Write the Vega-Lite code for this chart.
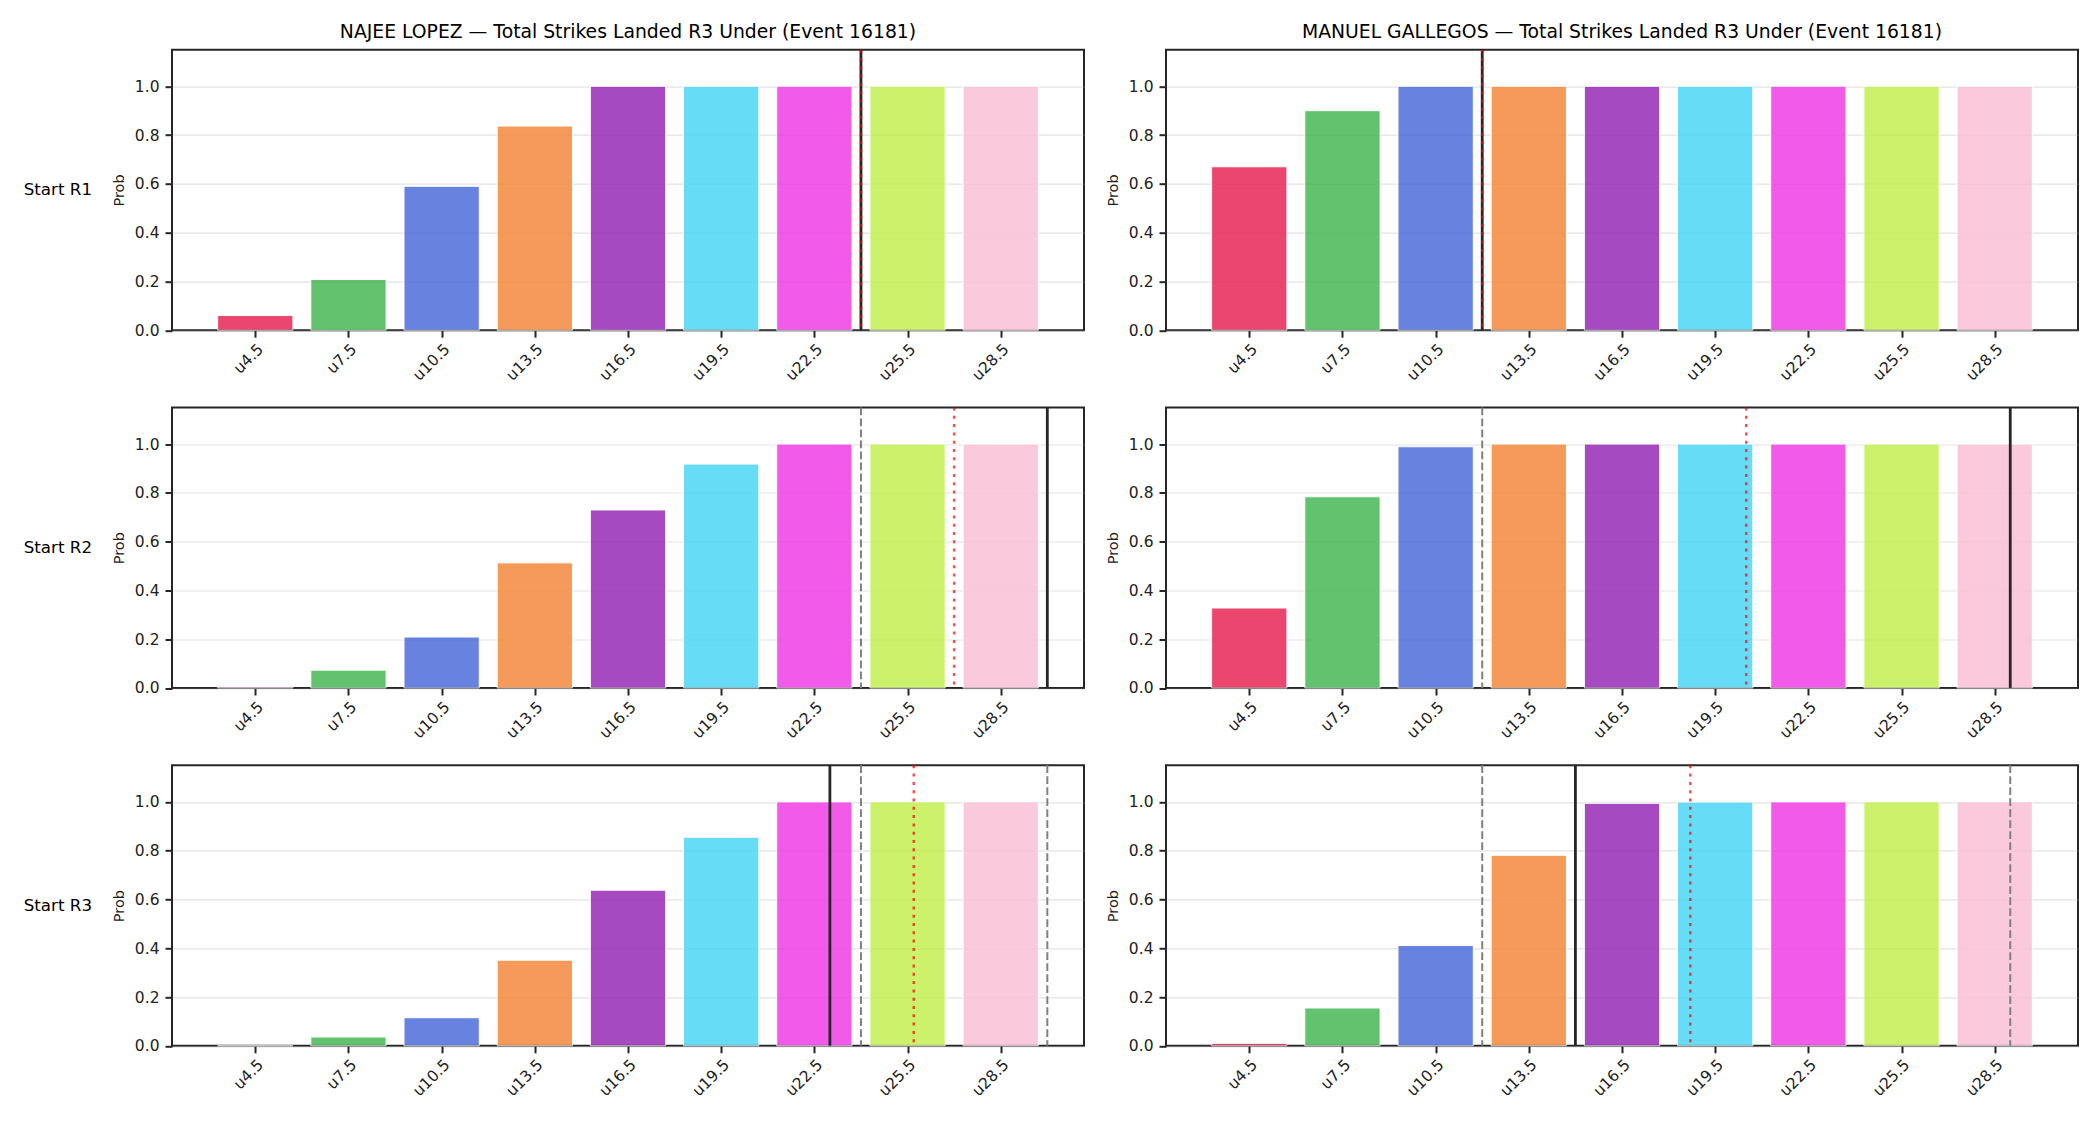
{
  "$schema": "https://vega.github.io/schema/vega-lite/v6.json",
  "background": "white",
  "padding": {"left": 23, "top": 22.7, "right": 10, "bottom": 10},
  "data": {
    "values": [
      {"fighter": "NAJEE LOPEZ", "start": "Start R1", "kind": "bar", "line": 4.5, "p": 0.06},
      {"fighter": "NAJEE LOPEZ", "start": "Start R1", "kind": "bar", "line": 7.5, "p": 0.208},
      {"fighter": "NAJEE LOPEZ", "start": "Start R1", "kind": "bar", "line": 10.5, "p": 0.59},
      {"fighter": "NAJEE LOPEZ", "start": "Start R1", "kind": "bar", "line": 13.5, "p": 0.837},
      {"fighter": "NAJEE LOPEZ", "start": "Start R1", "kind": "bar", "line": 16.5, "p": 1.0},
      {"fighter": "NAJEE LOPEZ", "start": "Start R1", "kind": "bar", "line": 19.5, "p": 1.0},
      {"fighter": "NAJEE LOPEZ", "start": "Start R1", "kind": "bar", "line": 22.5, "p": 1.0},
      {"fighter": "NAJEE LOPEZ", "start": "Start R1", "kind": "bar", "line": 25.5, "p": 1.0},
      {"fighter": "NAJEE LOPEZ", "start": "Start R1", "kind": "bar", "line": 28.5, "p": 1.0},
      {"fighter": "NAJEE LOPEZ", "start": "Start R2", "kind": "bar", "line": 4.5, "p": 0.004},
      {"fighter": "NAJEE LOPEZ", "start": "Start R2", "kind": "bar", "line": 7.5, "p": 0.073},
      {"fighter": "NAJEE LOPEZ", "start": "Start R2", "kind": "bar", "line": 10.5, "p": 0.209},
      {"fighter": "NAJEE LOPEZ", "start": "Start R2", "kind": "bar", "line": 13.5, "p": 0.513},
      {"fighter": "NAJEE LOPEZ", "start": "Start R2", "kind": "bar", "line": 16.5, "p": 0.73},
      {"fighter": "NAJEE LOPEZ", "start": "Start R2", "kind": "bar", "line": 19.5, "p": 0.918},
      {"fighter": "NAJEE LOPEZ", "start": "Start R2", "kind": "bar", "line": 22.5, "p": 1.0},
      {"fighter": "NAJEE LOPEZ", "start": "Start R2", "kind": "bar", "line": 25.5, "p": 1.0},
      {"fighter": "NAJEE LOPEZ", "start": "Start R2", "kind": "bar", "line": 28.5, "p": 1.0},
      {"fighter": "NAJEE LOPEZ", "start": "Start R3", "kind": "bar", "line": 4.5, "p": 0.0},
      {"fighter": "NAJEE LOPEZ", "start": "Start R3", "kind": "bar", "line": 7.5, "p": 0.036},
      {"fighter": "NAJEE LOPEZ", "start": "Start R3", "kind": "bar", "line": 10.5, "p": 0.115},
      {"fighter": "NAJEE LOPEZ", "start": "Start R3", "kind": "bar", "line": 13.5, "p": 0.351},
      {"fighter": "NAJEE LOPEZ", "start": "Start R3", "kind": "bar", "line": 16.5, "p": 0.638},
      {"fighter": "NAJEE LOPEZ", "start": "Start R3", "kind": "bar", "line": 19.5, "p": 0.855},
      {"fighter": "NAJEE LOPEZ", "start": "Start R3", "kind": "bar", "line": 22.5, "p": 1.0},
      {"fighter": "NAJEE LOPEZ", "start": "Start R3", "kind": "bar", "line": 25.5, "p": 1.0},
      {"fighter": "NAJEE LOPEZ", "start": "Start R3", "kind": "bar", "line": 28.5, "p": 1.0},
      {"fighter": "MANUEL GALLEGOS", "start": "Start R1", "kind": "bar", "line": 4.5, "p": 0.67},
      {"fighter": "MANUEL GALLEGOS", "start": "Start R1", "kind": "bar", "line": 7.5, "p": 0.9},
      {"fighter": "MANUEL GALLEGOS", "start": "Start R1", "kind": "bar", "line": 10.5, "p": 1.0},
      {"fighter": "MANUEL GALLEGOS", "start": "Start R1", "kind": "bar", "line": 13.5, "p": 1.0},
      {"fighter": "MANUEL GALLEGOS", "start": "Start R1", "kind": "bar", "line": 16.5, "p": 1.0},
      {"fighter": "MANUEL GALLEGOS", "start": "Start R1", "kind": "bar", "line": 19.5, "p": 1.0},
      {"fighter": "MANUEL GALLEGOS", "start": "Start R1", "kind": "bar", "line": 22.5, "p": 1.0},
      {"fighter": "MANUEL GALLEGOS", "start": "Start R1", "kind": "bar", "line": 25.5, "p": 1.0},
      {"fighter": "MANUEL GALLEGOS", "start": "Start R1", "kind": "bar", "line": 28.5, "p": 1.0},
      {"fighter": "MANUEL GALLEGOS", "start": "Start R2", "kind": "bar", "line": 4.5, "p": 0.328},
      {"fighter": "MANUEL GALLEGOS", "start": "Start R2", "kind": "bar", "line": 7.5, "p": 0.784},
      {"fighter": "MANUEL GALLEGOS", "start": "Start R2", "kind": "bar", "line": 10.5, "p": 0.989},
      {"fighter": "MANUEL GALLEGOS", "start": "Start R2", "kind": "bar", "line": 13.5, "p": 1.0},
      {"fighter": "MANUEL GALLEGOS", "start": "Start R2", "kind": "bar", "line": 16.5, "p": 1.0},
      {"fighter": "MANUEL GALLEGOS", "start": "Start R2", "kind": "bar", "line": 19.5, "p": 1.0},
      {"fighter": "MANUEL GALLEGOS", "start": "Start R2", "kind": "bar", "line": 22.5, "p": 1.0},
      {"fighter": "MANUEL GALLEGOS", "start": "Start R2", "kind": "bar", "line": 25.5, "p": 1.0},
      {"fighter": "MANUEL GALLEGOS", "start": "Start R2", "kind": "bar", "line": 28.5, "p": 1.0},
      {"fighter": "MANUEL GALLEGOS", "start": "Start R3", "kind": "bar", "line": 4.5, "p": 0.01},
      {"fighter": "MANUEL GALLEGOS", "start": "Start R3", "kind": "bar", "line": 7.5, "p": 0.155},
      {"fighter": "MANUEL GALLEGOS", "start": "Start R3", "kind": "bar", "line": 10.5, "p": 0.411},
      {"fighter": "MANUEL GALLEGOS", "start": "Start R3", "kind": "bar", "line": 13.5, "p": 0.781},
      {"fighter": "MANUEL GALLEGOS", "start": "Start R3", "kind": "bar", "line": 16.5, "p": 0.994},
      {"fighter": "MANUEL GALLEGOS", "start": "Start R3", "kind": "bar", "line": 19.5, "p": 0.999},
      {"fighter": "MANUEL GALLEGOS", "start": "Start R3", "kind": "bar", "line": 22.5, "p": 1.0},
      {"fighter": "MANUEL GALLEGOS", "start": "Start R3", "kind": "bar", "line": 25.5, "p": 1.0},
      {"fighter": "MANUEL GALLEGOS", "start": "Start R3", "kind": "bar", "line": 28.5, "p": 1.0},
      {"fighter": "NAJEE LOPEZ", "start": "Start R1", "kind": "black", "at": 24},
      {"fighter": "NAJEE LOPEZ", "start": "Start R1", "kind": "red", "at": 24},
      {"fighter": "NAJEE LOPEZ", "start": "Start R2", "kind": "gray", "at": 24},
      {"fighter": "NAJEE LOPEZ", "start": "Start R2", "kind": "red", "at": 27},
      {"fighter": "NAJEE LOPEZ", "start": "Start R2", "kind": "black", "at": 30},
      {"fighter": "NAJEE LOPEZ", "start": "Start R3", "kind": "black", "at": 23},
      {"fighter": "NAJEE LOPEZ", "start": "Start R3", "kind": "gray", "at": 24},
      {"fighter": "NAJEE LOPEZ", "start": "Start R3", "kind": "red", "at": 25.7},
      {"fighter": "NAJEE LOPEZ", "start": "Start R3", "kind": "gray", "at": 30},
      {"fighter": "MANUEL GALLEGOS", "start": "Start R1", "kind": "black", "at": 12},
      {"fighter": "MANUEL GALLEGOS", "start": "Start R1", "kind": "red", "at": 12},
      {"fighter": "MANUEL GALLEGOS", "start": "Start R2", "kind": "gray", "at": 12},
      {"fighter": "MANUEL GALLEGOS", "start": "Start R2", "kind": "red", "at": 20.5},
      {"fighter": "MANUEL GALLEGOS", "start": "Start R2", "kind": "black", "at": 29},
      {"fighter": "MANUEL GALLEGOS", "start": "Start R3", "kind": "gray", "at": 12},
      {"fighter": "MANUEL GALLEGOS", "start": "Start R3", "kind": "black", "at": 15},
      {"fighter": "MANUEL GALLEGOS", "start": "Start R3", "kind": "red", "at": 18.7},
      {"fighter": "MANUEL GALLEGOS", "start": "Start R3", "kind": "gray", "at": 29}
    ]
  },
  "facet": {
    "column": {
      "field": "fighter",
      "type": "nominal",
      "sort": ["NAJEE LOPEZ", "MANUEL GALLEGOS"],
      "header": {
        "title": null,
        "labelExpr": "datum.value + ' — Total Strikes Landed R3 Under (Event 16181)'",
        "labelFont": "DejaVu Sans",
        "labelFontSize": 18.8,
        "labelColor": "#000000",
        "labelPadding": 4.6
      }
    },
    "row": {
      "field": "start",
      "type": "nominal",
      "sort": ["Start R1", "Start R2", "Start R3"],
      "header": {
        "title": null,
        "labelAngle": 0,
        "labelAlign": "left",
        "labelBaseline": "middle",
        "labelFont": "DejaVu Sans",
        "labelFontSize": 16.7,
        "labelColor": "#000000",
        "labelPadding": 18
      }
    }
  },
  "spacing": {"row": 19.8, "column": 19},
  "resolve": {"axis": {"x": "independent", "y": "independent"}},
  "spec": {
    "width": 912,
    "height": 280.5,
    "layer": [
      {
        "transform": [{"filter": "datum.kind === 'bar'"}],
        "mark": {"type": "bar", "width": 75.3, "stroke": "white", "strokeWidth": 1, "opacity": 0.8},
        "encoding": {
          "x": {
            "field": "line",
            "type": "quantitative",
            "title": null,
            "scale": {"domain": [1.98, 31.02], "nice": false, "zero": false},
            "axis": {
              "values": [4.5, 7.5, 10.5, 13.5, 16.5, 19.5, 22.5, 25.5, 28.5],
              "labelExpr": "'u' + datum.value",
              "labelAngle": -45,
              "labelAlign": "right",
              "labelBaseline": "top",
              "labelPadding": 4,
              "labelFontSize": 15.5,
              "grid": false
            }
          },
          "y": {
            "field": "p",
            "type": "quantitative",
            "title": "Prob",
            "scale": {"domain": [0, 1.15], "nice": false},
            "axis": {
              "values": [0, 0.2, 0.4, 0.6, 0.8, 1.0],
              "format": ".1f",
              "grid": true,
              "titlePadding": 8,
              "labelPadding": 6,
              "labelFontSize": 15.5
            }
          },
          "color": {
            "field": "line",
            "type": "ordinal",
            "legend": null,
            "scale": {
              "domain": [4.5, 7.5, 10.5, 13.5, 16.5, 19.5, 22.5, 25.5, 28.5],
              "range": ["#e6194b", "#3cb44b", "#4363d8", "#f58231", "#911eb4", "#42d4f4", "#f032e6", "#bfef45", "#fabed4"]
            }
          }
        }
      },
      {
        "transform": [{"filter": "datum.kind === 'gray'"}],
        "mark": {"type": "rule", "stroke": "#808080", "strokeWidth": 2, "strokeDash": [7.7, 3.3]},
        "encoding": {"x": {"field": "at", "type": "quantitative", "title": null}}
      },
      {
        "transform": [{"filter": "datum.kind === 'black'"}],
        "mark": {"type": "rule", "stroke": "#262626", "strokeWidth": 2.8},
        "encoding": {"x": {"field": "at", "type": "quantitative", "title": null}}
      },
      {
        "transform": [{"filter": "datum.kind === 'red'"}],
        "mark": {"type": "rule", "stroke": "red", "strokeOpacity": 0.7, "strokeWidth": 2.5, "strokeDash": [3, 5.3]},
        "encoding": {"x": {"field": "at", "type": "quantitative", "title": null}}
      }
    ]
  },
  "config": {
    "font": "DejaVu Sans",
    "view": {"stroke": "#262626", "strokeWidth": 2},
    "axis": {
      "labelFont": "DejaVu Sans",
      "labelFontSize": 15,
      "labelColor": "#222222",
      "tickColor": "#262626",
      "tickSize": 7,
      "tickWidth": 2,
      "domain": false,
      "titleFont": "DejaVu Sans",
      "titleFontSize": 14.5,
      "titleFontWeight": "normal",
      "titleColor": "#222222"
    },
    "axisY": {"gridColor": "#b0b0b0", "gridOpacity": 0.35, "gridWidth": 1.2}
  }
}
